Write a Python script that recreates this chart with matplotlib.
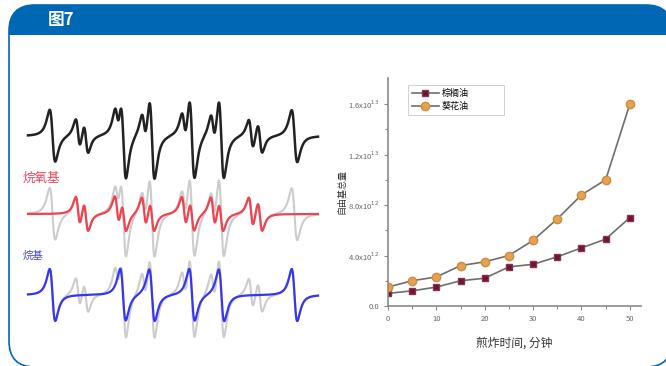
import numpy as np
import matplotlib
matplotlib.use("Agg")
import matplotlib.pyplot as plt
from matplotlib.patches import FancyBboxPatch, Rectangle

plt.rcParams['font.family'] = ['Noto Sans CJK SC', 'DejaVu Sans']

# frying time (min) and total free radicals
minutes = [0, 5, 10, 15, 20, 25, 30, 35, 40, 45, 50]
palm_oil = [1.0e12, 1.2e12, 1.5e12, 2.0e12, 2.2e12, 3.1e12, 3.3e12, 3.9e12, 4.6e12, 5.3e12, 7.0e12]
sunflower_oil = [1.5e12, 2.0e12, 2.3e12, 3.2e12, 3.5e12, 4.0e12, 5.2e12, 6.9e12, 8.8e12, 10.0e12, 16.0e12]
y_ticks = [0, 4e12, 8e12, 1.2e13, 1.6e13]
y_tick_labels = ['0.0', r'4.0x10$^{12}$', r'8.0x10$^{12}$', r'1.2x10$^{13}$', r'1.6x10$^{13}$']

# EPR spin-adduct line positions (field, arb. units)
alkyl_lines = [52.5, 123, 152, 192, 221.5, 294.5]
alkoxyl_lines = [78, 86, 117, 124, 144, 152, 184, 192, 213, 221, 251, 260]
alkyl_amp, alkyl_width = 26, 4.8
alkoxyl_amp, alkoxyl_width = 15, 4.0


def deriv_lorentz(x, x0, w):
    u = (x - x0) / w
    return -u / (1 + u ** 2) ** 2 / 0.3248


field = np.linspace(28, 318, 1500)
alkyl = sum(alkyl_amp * deriv_lorentz(field, c, alkyl_width) for c in alkyl_lines)
alkoxyl = sum(alkoxyl_amp * deriv_lorentz(field, c, alkoxyl_width) for c in alkoxyl_lines)
total = alkyl + alkoxyl

fig = plt.figure(figsize=(6.66, 3.66), dpi=100)

# frame and header band, in pixel coordinates
bg = fig.add_axes([0, 0, 1, 1])
bg.set_xlim(0, 666)
bg.set_ylim(366, 0)
bg.axis('off')
blue = '#0067b4'
frame = FancyBboxPatch((9, 5), 663, 362, boxstyle='round,pad=0,rounding_size=26',
                       facecolor='white', edgecolor=blue, linewidth=1.2)
bg.add_patch(frame)
header = FancyBboxPatch((9, 5), 663, 362, boxstyle='round,pad=0,rounding_size=26',
                        facecolor=blue, edgecolor='none')
bg.add_patch(header)
header.set_clip_path(Rectangle((0, 0), 666, 35, transform=bg.transData))
bg.text(48, 20, '图7', color='white', fontsize=12, fontweight='bold', va='center', ha='left')

# EPR spectra
sp = fig.add_axes([0, 26 / 366, 340 / 666, 260 / 366])
sp.patch.set_visible(False)
sp.axis('off')
sp.set_xlim(0, 340)
sp.set_ylim(-204, 56)
sp.plot(field, total, color='#222222', lw=1.8)
sp.plot(field, total - 78, color='#cccccc', lw=1.5)
sp.plot(field, alkoxyl - 78, color='#f2414f', lw=1.6)
sp.plot(field, total - 159, color='#cccccc', lw=1.5)
sp.plot(field, alkyl - 159, color='#3535f2', lw=1.6)
sp.text(23, -42, '烷氧基', color='#ec4459', fontsize=9, va='center', ha='left')
sp.text(23, -120, '烷基', color='#4646d6', fontsize=7.5, va='center', ha='left')

# free radicals vs frying time
ax = fig.add_axes([388 / 666, 60 / 366, 253 / 666, 228 / 366])
ax.patch.set_visible(False)
ax.plot(minutes, palm_oil, color='#6e6e6e', lw=1.2, marker='s', markersize=5,
        markerfacecolor='#6b1631', markeredgecolor='#8a3050', label='棕榈油')
ax.plot(minutes, sunflower_oil, color='#6e6e6e', lw=1.2, marker='o', markersize=6,
        markerfacecolor='#e3a255', markeredgecolor='#d08c3c', label='葵花油')
ax.set_xlim(0, 52.3)
ax.set_ylim(0, 1.806e13)
ax.set_xticks([0, 10, 20, 30, 40, 50])
ax.set_xticks([5, 15, 25, 35, 45], minor=True)
ax.set_yticks(y_ticks)
ax.set_yticklabels(y_tick_labels)
ax.set_yticks([2e12, 6e12, 1.0e13, 1.4e13], minor=True)
for s in ['top', 'right']:
    ax.spines[s].set_visible(False)
for s in ['left', 'bottom']:
    ax.spines[s].set_color('#8a8a8a')
    ax.spines[s].set_linewidth(1.2)
ax.tick_params(which='both', colors='#8a8a8a', labelcolor='#666666', labelsize=5.5, width=0.8)
ax.tick_params(which='major', length=3)
ax.tick_params(which='minor', length=2)
ax.set_xlabel('煎炸时间, 分钟', fontsize=8.5, color='#333333', labelpad=10)
ax.set_ylabel('自由基总量', fontsize=6.5, color='#333333', labelpad=1)
leg = ax.legend(loc='upper left', bbox_to_anchor=(0.079, 0.833, 0.38, 0.136), mode='expand',
                fontsize=6.5, frameon=True, fancybox=False, edgecolor='#bbbbbb',
                handlelength=3, borderpad=0.4, labelspacing=0.5, handletextpad=0.3,
                borderaxespad=0)
leg.get_frame().set_linewidth(0.6)

fig.savefig('out.png', dpi=100)
